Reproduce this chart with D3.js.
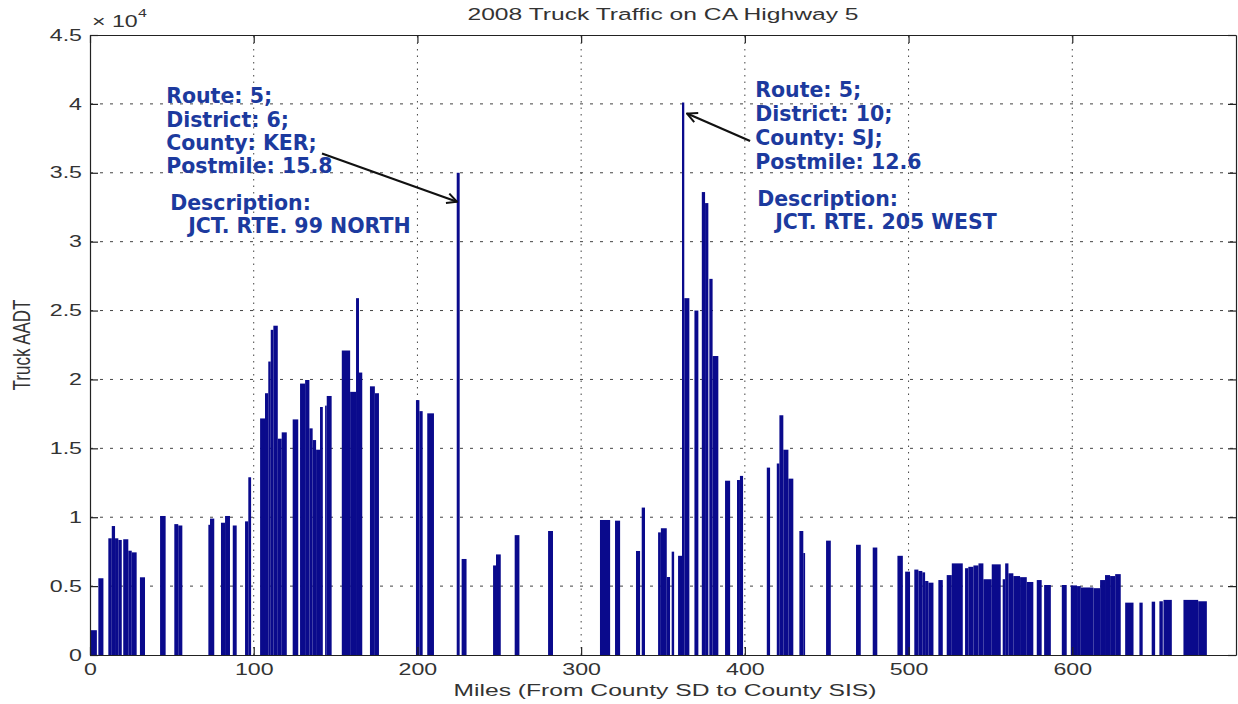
<!DOCTYPE html>
<html>
<head>
<meta charset="utf-8">
<script src="https://cdn.jsdelivr.net/npm/d3@7"></script>
<style>
  body { margin: 0; background: #fff; }
  svg { display: block; }
</style>
</head>
<body>
<svg id="chart"></svg>
<script>
// 2008 truck AADT along CA Highway 5, one entry per segment (miles from county SD)
const segStart = [0.5, 5.1, 11.2, 13.3, 15.3, 17.3, 20.3, 23.4, 25.5, 30.5,
  42.8, 51.5, 53.9, 72.3, 73.3, 80, 82.5, 87.2, 94.7, 96.7,
  103.9, 106.9, 108.9, 110.4, 112, 114.7, 117.1, 123.8, 128.3, 131.4,
  134, 136, 138.1, 140.5, 143.6, 144.6, 153.8, 158.9, 162.5, 164.3,
  171, 174, 199.1, 201.2, 206, 224, 227, 246.2, 248, 259.4,
  279.8, 311.5, 320.7, 333.5, 337, 347, 348.7, 352.3, 355.3, 359.2,
  361.6, 363, 369.2, 373.7, 375.7, 378.3, 380.3, 387.9, 395.2, 397,
  413.4, 419.5, 421.1, 423.5, 426.6, 433.3, 435.7, 449.6, 467.9, 478.1,
  493.2, 497.9, 503.5, 506, 508.4, 510.1, 512.1, 518.2, 523.3, 526.4,
  534.5, 536.5, 539.6, 542.7, 545.7, 550.8, 557.5, 559, 561, 564,
  568.1, 572.2, 578.3, 582.8, 593.6, 599.1, 602.9, 605.2, 612.9, 617,
  620, 623.1, 626.2, 632.3, 641, 648.5, 653.2, 655.7, 667.9, 676.9];
const segEnd = [4.2, 8.2, 13.3, 15.3, 17.3, 19.4, 23.4, 25.5, 28.5, 33.6,
  46.2, 53.9, 56.4, 73.3, 75.9, 82.5, 85.5, 89.6, 96.7, 98.4,
  106.9, 108.9, 110.4, 112, 114.7, 117.1, 120.2, 127.2, 131.4, 134,
  136, 138.1, 140.5, 142.2, 144.6, 147.6, 158.9, 162.5, 164.3, 166.3,
  174, 176.5, 201.2, 203.2, 210.1, 225.8, 230, 248, 250.9, 262.3,
  282.8, 317.7, 323.8, 336, 339, 348.7, 352.3, 354.3, 356.8, 361.6,
  363, 366.1, 371.6, 375.7, 377.7, 380.3, 383.8, 391, 397, 398.9,
  415.4, 421.1, 423.5, 426.6, 429.6, 435.7, 436.8, 452.5, 470.8, 480.9,
  496.5, 500.9, 506, 508.4, 510.1, 512.1, 515.2, 520.9, 526.4, 533.1,
  536.5, 539.6, 542.7, 545.7, 550.8, 556.3, 559, 561, 564, 568.1,
  572.2, 576.2, 581.3, 586.9, 596.6, 602.9, 605.2, 612.9, 617, 620,
  623.1, 626.2, 629.6, 637.4, 643, 650.6, 655.3, 660.8, 676.9, 682.2];
const truckAADT = [1800, 5570, 8470, 9360, 8470, 8350, 8400, 7570, 7450, 5640,
  10090, 9500, 9400, 9450, 9900, 9600, 10090, 9400, 9700, 12900,
  17170, 19000, 21300, 23600, 23900, 15700, 16160, 17100, 19700, 19960,
  16450, 15600, 14900, 18000, 18100, 18800, 22100, 19100, 25900, 20500,
  19500, 19000, 18500, 17700, 17540, 35000, 6970, 6500, 7300, 8700,
  9000, 9800, 9750, 7550, 10700, 8900, 9200, 5660, 7500, 7200,
  40100, 25900, 25000, 33600, 32800, 27300, 21700, 12650, 12700, 13000,
  13600, 13900, 17400, 14900, 12800, 9000, 7400, 8300, 8000, 7800,
  7200, 6050, 6200, 6100, 6000, 5370, 5250, 5440, 5800, 6650,
  6300, 6400, 6500, 6650, 5500, 6580, 5500, 6650, 5930, 5730,
  5650, 5300, 5440, 5080, 5080, 5050, 5000, 4900, 4850, 5440,
  5800, 5730, 5870, 3800, 3800, 3870, 3900, 4000, 4000, 3900];

const xTicks = [0, 100, 200, 300, 400, 500, 600];
const yTicks = [0, 5000, 10000, 15000, 20000, 25000, 30000, 35000, 40000, 45000];

const leftNote = ["Route: 5;", "District: 6;", "County: KER;", "Postmile: 15.8"];
const leftDesc = ["Description:", "JCT. RTE. 99 NORTH"];
const rightNote = ["Route: 5;", "District: 10;", "County: SJ;", "Postmile: 12.6"];
const rightDesc = ["Description:", "JCT. RTE. 205 WEST"];

const w = 1238, h = 704;
const sx = 1.45; // the source figure is stretched sideways
const textCol = "#333";
const noteCol = "#1c3a9e";

const svg = d3.select("#chart").attr("width", w).attr("height", h);
svg.append("rect").attr("width", w).attr("height", h).attr("fill", "#fff");

const x = d3.scaleLinear().domain([0, 700]).range([90, 1236]);
const y = d3.scaleLinear().domain([0, 45000]).range([655, 35]);

// grid
svg.append("g").selectAll("line")
  .data(yTicks.slice(1, -1))
  .enter().append("line")
  .attr("x1", x(0)).attr("x2", x(700))
  .attr("y1", d => y(d)).attr("y2", d => y(d))
  .attr("stroke", "#444").attr("stroke-dasharray", "3,7");
svg.append("g").selectAll("line")
  .data(xTicks.slice(1))
  .enter().append("line")
  .attr("x1", d => x(d)).attr("x2", d => x(d))
  .attr("y1", y(0)).attr("y2", y(45000))
  .attr("stroke", "#444").attr("stroke-dasharray", "1.5,5");

// bars
svg.append("g").selectAll("rect")
  .data(truckAADT)
  .enter().append("rect")
  .attr("x", (d, i) => x(segStart[i]))
  .attr("width", (d, i) => x(segEnd[i]) - x(segStart[i]))
  .attr("y", d => y(d))
  .attr("height", d => y(0) - y(d))
  .attr("fill", "#0a0a8c");

// axes
const axisFont = g => g.attr("font-family", "'Liberation Sans', Arial, sans-serif")
  .attr("font-size", 16);

svg.append("g")
  .attr("transform", "translate(0," + y(0) + ")")
  .call(d3.axisBottom(x).tickValues(xTicks).tickSize(-8).tickSizeOuter(0).tickPadding(9))
  .call(axisFont)
  .call(g => g.selectAll("text").attr("fill", textCol).attr("transform", "scale(" + sx + ",1)"));

svg.append("g")
  .attr("transform", "translate(" + x(0) + ",0)")
  .call(d3.axisLeft(y).tickValues(yTicks).tickSize(-8).tickSizeOuter(0).tickPadding(8)
    .tickFormat(d => d / 1e4))
  .call(axisFont)
  .call(g => g.selectAll("text").attr("fill", textCol)
    .attr("x", -8 / sx).attr("transform", "scale(" + sx + ",1)"));

svg.append("g")
  .attr("transform", "translate(0," + y(45000) + ")")
  .call(d3.axisTop(x).tickValues(xTicks).tickSize(-8).tickSizeOuter(0).tickFormat(""));
svg.append("g")
  .attr("transform", "translate(" + x(700) + ",0)")
  .call(d3.axisRight(y).tickValues(yTicks).tickSize(-8).tickSizeOuter(0).tickFormat(""));

svg.selectAll(".domain, .tick line").attr("stroke", "#222").attr("stroke-width", 1.2);

// labels
const stretched = (px, py, txt, size, anchor) => svg.append("text")
  .attr("transform", "translate(" + px + "," + py + ") scale(" + sx + ",1)")
  .attr("text-anchor", anchor)
  .attr("font-family", "'Liberation Sans', Arial, sans-serif")
  .attr("font-size", size)
  .attr("fill", textCol)
  .text(txt);

stretched(663, 20, "2008 Truck Traffic on CA Highway 5", 17, "middle");
stretched(665, 696, "Miles (From County SD to County SIS)", 17, "middle");
stretched(92, 27, "\u00d7 10", 16, "start");
stretched(138, 17, "4", 11, "start");

svg.append("text")
  .attr("transform", "translate(30,345) scale(" + sx + ",1) rotate(-90)")
  .attr("text-anchor", "middle")
  .attr("font-family", "'Liberation Sans', Arial, sans-serif")
  .attr("font-size", 17)
  .attr("fill", textCol)
  .text("Truck AADT");

// annotations
svg.append("defs").append("marker")
  .attr("id", "head")
  .attr("viewBox", "0 0 12 12")
  .attr("refX", 11).attr("refY", 6)
  .attr("markerWidth", 12).attr("markerHeight", 12)
  .attr("markerUnits", "userSpaceOnUse")
  .attr("orient", "auto")
  .append("path")
  .attr("d", "M1,1 L11,6 L1,11")
  .attr("fill", "none").attr("stroke", "#111").attr("stroke-width", 2);

const drawNote = (mile, aadt, note, desc, lineGap, descDx, descDy) => {
  const g = svg.append("g")
    .attr("transform", "translate(" + x(mile) + "," + y(aadt) + ")")
    .attr("font-family", "'DejaVu Sans', Verdana, sans-serif")
    .attr("font-weight", "bold")
    .attr("font-size", 20.5)
    .attr("fill", noteCol);
  note.forEach((t, i) => g.append("text").attr("y", i * lineGap).text(t));
  g.append("text").attr("x", descDx).attr("y", descDy).text(desc[0]);
  g.append("text").attr("x", descDx + 18).attr("y", descDy + 23).text(desc[1]);
};
drawNote(46.5, 40050, leftNote, leftDesc, 23.4, 4, 107);
drawNote(406.3, 40480, rightNote, rightDesc, 24, 2, 109);

const arrow = (m0, a0, m1, a1) => svg.append("line")
  .attr("x1", x(m0)).attr("y1", y(a0))
  .attr("x2", x(m1)).attr("y2", y(a1))
  .attr("stroke", "#111").attr("stroke-width", 2.2)
  .attr("marker-end", "url(#head)");
arrow(141.7, 36400, 224.2, 32900);
arrow(403.2, 37300, 364.7, 39300);
</script>
</body>
</html>
